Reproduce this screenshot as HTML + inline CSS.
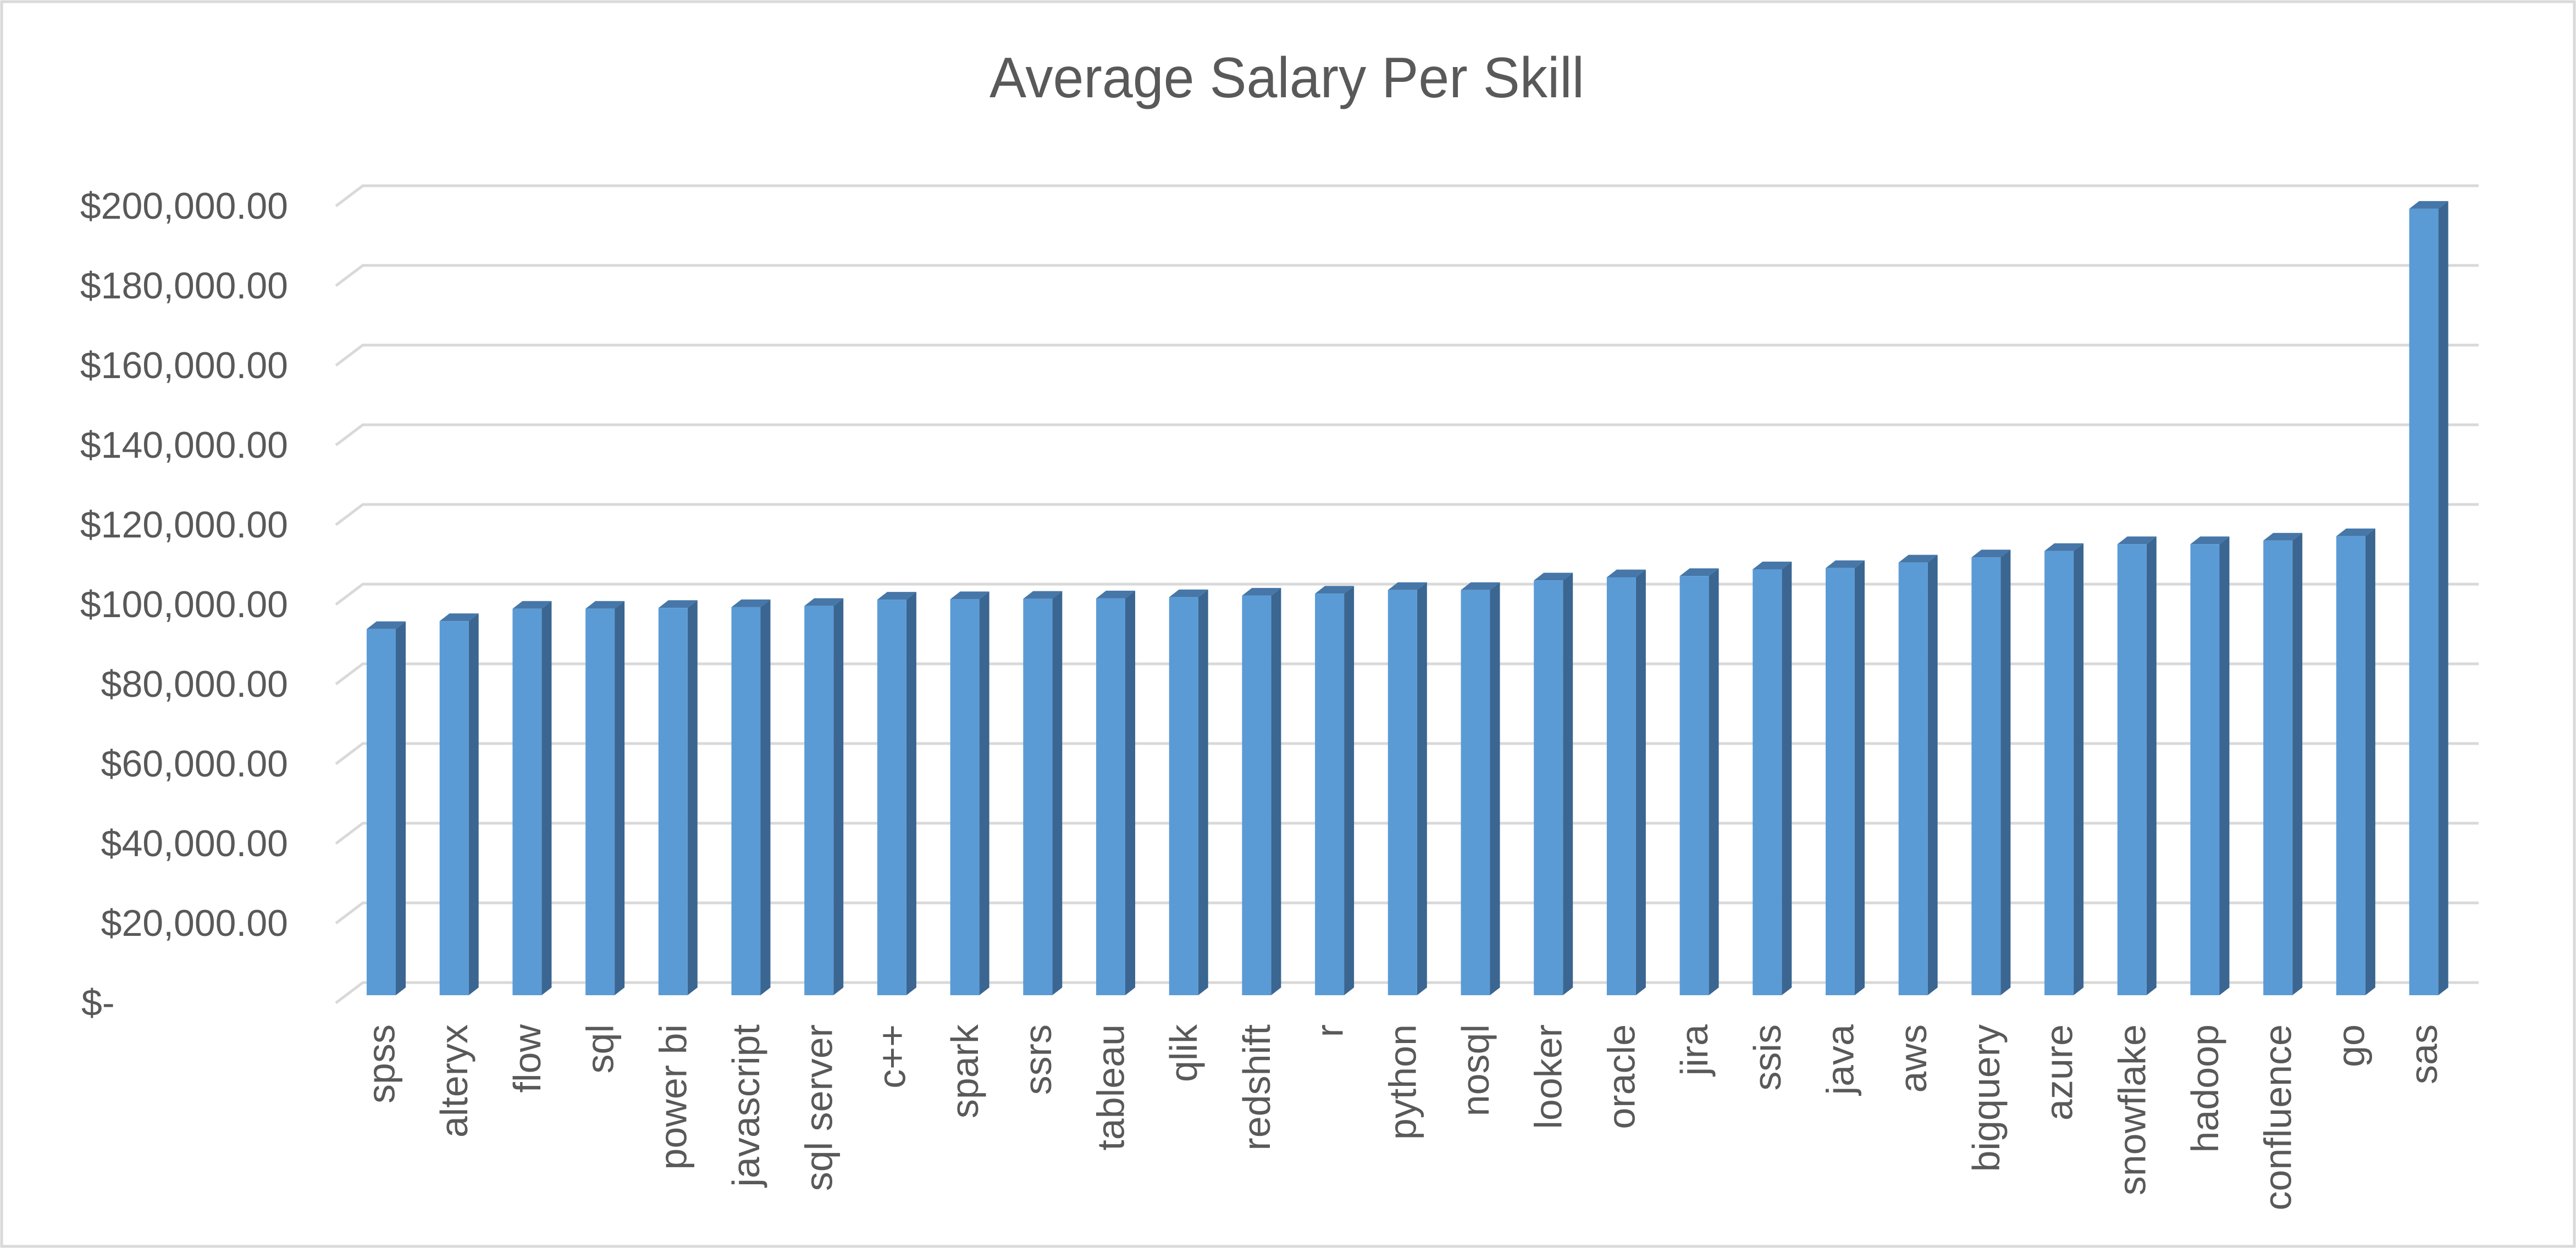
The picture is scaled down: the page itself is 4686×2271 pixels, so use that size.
<!DOCTYPE html>
<html><head><meta charset="utf-8"><style>
html,body{margin:0;padding:0;background:#fff;}
svg{display:block;}
text{font-family:"Liberation Sans",sans-serif;fill:#595959;}
</style></head><body>
<svg id="chart" width="4686" height="2271" viewBox="0 0 4686 2271" xmlns="http://www.w3.org/2000/svg">
<rect x="3" y="3" width="4680" height="2265" fill="#fff" stroke="#d9d9d9" stroke-width="5"/>
<text x="2341" y="177" text-anchor="middle" font-size="104" textLength="1082" lengthAdjust="spacingAndGlyphs">Average Salary Per Skill</text>
<g id="grid"></g>
<g id="ylabels"></g>
<g id="bars"></g>
<g id="xlabels"></g>
</svg>
<script>
const categories = ["spss","alteryx","flow","sql","power bi","javascript","sql server","c++","spark","ssrs","tableau","qlik","redshift","r","python","nosql","looker","oracle","jira","ssis","java","aws","bigquery","azure","snowflake","hadoop","confluence","go","sas"];
const salaries = [91900,93900,97000,97000,97200,97400,97700,99300,99400,99500,99600,99900,100300,100800,101700,101700,104100,104900,105200,106900,107200,108600,109900,111500,113200,113200,114100,115200,197400];
const tickValues = [0,20000,40000,60000,80000,100000,120000,140000,160000,180000,200000];
const tickLabels = ["$-","$20,000.00","$40,000.00","$60,000.00","$80,000.00","$100,000.00","$120,000.00","$140,000.00","$160,000.00","$180,000.00","$200,000.00"];

const NS = "http://www.w3.org/2000/svg";
const PXPER = 1450/200000;
const yBack = v => 1788 - v*PXPER;
const yFront = v => 1811 - v*PXPER;
const xFront = i => 667 + i*132.7;
function mk(tag, attrs, parent){const e=document.createElementNS(NS,tag);for(const k in attrs)e.setAttribute(k,attrs[k]);parent.appendChild(e);return e;}

const grid=document.getElementById('grid'), yl=document.getElementById('ylabels');
tickValues.forEach((v,i)=>{
  const y=yBack(v);
  const p=mk('polyline',{points:`611,${y+37} 660,${y} 4509,${y}`,fill:'none',stroke:'#d9d9d9','stroke-width':5},grid);
  
  
  const t=mk('text',{x:(v===0?148:524),y:y+60,'text-anchor':(v===0?'start':'end'),'font-size':68},yl);
  t.textContent=tickLabels[i];
  
  
});

const bars=document.getElementById('bars'), xl=document.getElementById('xlabels');
const W=53, D=18, H=14, BOT=1811;
salaries.forEach((v,i)=>{
  const x=xFront(i), top=yFront(v);
  const g=mk('g',{},bars);
  
  
  mk('polygon',{points:`${x+W},${top} ${x+W+D},${top-H} ${x+W+D},${BOT-H} ${x+W},${BOT}`,fill:'#3a6691'},g);
  mk('polygon',{points:`${x},${top} ${x+D},${top-H} ${x+W+D},${top-H} ${x+W},${top}`,fill:'#4677a8'},g);
  mk('rect',{x:x,y:top,width:W,height:BOT-top,fill:'#5b9bd5'},g);
  const cx=x+W/2, ty=1864;
  const t=mk('text',{x:0,y:0,'text-anchor':'end','font-size':70,transform:`translate(${cx+24},${ty}) rotate(-90)`},xl);
  t.textContent=categories[i];
  
  
});
</script>
</body></html>
